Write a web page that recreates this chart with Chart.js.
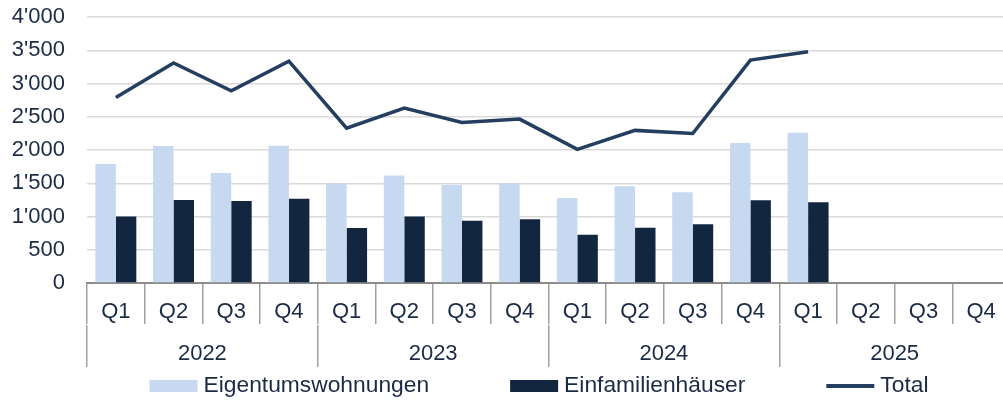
<!DOCTYPE html>
<html>
<head>
<meta charset="utf-8">
<script src="https://cdn.jsdelivr.net/npm/chart.js@4/dist/chart.umd.min.js"></script>
<style>
  body { margin: 0; overflow: hidden; background: #fff; }
  #wrap { width: 1010px; height: 403px; }
</style>
</head>
<body>
<div id="wrap"><canvas id="chart"></canvas></div>
<script>
// Data
const quarters = ['Q1', 'Q2', 'Q3', 'Q4', 'Q1', 'Q2', 'Q3', 'Q4', 'Q1', 'Q2', 'Q3', 'Q4', 'Q1', 'Q2', 'Q3', 'Q4'];
const years = ['2022', '2023', '2024', '2025'];
const eigentumswohnungen = [1790, 2060, 1655, 2065, 1500, 1615, 1475, 1500, 1280, 1455, 1365, 2105, 2260, null, null, null];
const einfamilienhaeuser = [1000, 1248, 1233, 1268, 827, 1000, 937, 957, 727, 832, 882, 1243, 1213, null, null, null];
const total = [2790, 3308, 2890, 3335, 2327, 2630, 2415, 2465, 2010, 2295, 2248, 3352, 3478, null, null, null];

const textColor = '#1b2a45';
const fontFamily = "'Liberation Sans', Arial, sans-serif";

// formats 3500 as 3'500
function swissNumber(v) {
  if (v < 1000) return String(v);
  const rest = String(v % 1000).padStart(3, '0');
  return Math.floor(v / 1000) + "'" + rest;
}

// legend drawn by hand so spacing matches the original
const legendPlugin = {
  id: 'customLegend',
  afterDraw(chart) {
    const ctx = chart.ctx;
    const boxW = 48, gapText = 6, gapItem = 81;
    ctx.save();
    ctx.font = '22.8px ' + fontFamily;
    const items = chart.data.datasets.map(ds => ({
      label: ds.label,
      type: ds.type,
      color: ds.type === 'line' ? ds.borderColor : ds.backgroundColor,
      w: ctx.measureText(ds.label).width
    }));
    let totalW = 0;
    items.forEach((it, i) => {
      totalW += boxW + gapText + it.w + (i < items.length - 1 ? gapItem : 0);
    });
    let x = 539 - totalW / 2;
    const y = 386;
    items.forEach(it => {
      if (it.type === 'line') {
        ctx.strokeStyle = it.color;
        ctx.lineWidth = 4;
        ctx.beginPath();
        ctx.moveTo(x, y);
        ctx.lineTo(x + boxW, y);
        ctx.stroke();
      } else {
        ctx.fillStyle = it.color;
        ctx.fillRect(x, y - 6, boxW, 12);
      }
      ctx.fillStyle = textColor;
      ctx.textBaseline = 'middle';
      ctx.fillText(it.label, x + boxW + gapText, y);
      x += boxW + gapText + it.w + gapItem;
    });
    ctx.restore();
  }
};

const ctx = document.getElementById('chart').getContext('2d');
new Chart(ctx, {
  type: 'bar',
  data: {
    labels: quarters,
    datasets: [
      {
        label: 'Eigentumswohnungen',
        data: eigentumswohnungen,
        backgroundColor: '#c6d9f0',
        order: 1
      },
      {
        label: 'Einfamilienhäuser',
        data: einfamilienhaeuser,
        backgroundColor: '#132640',
        order: 1
      },
      {
        type: 'line',
        label: 'Total',
        data: total,
        borderColor: '#243e60',
        borderWidth: 3.5,
        pointRadius: 0,
        tension: 0,
        order: 0
      }
    ]
  },
  options: {
    responsive: true,
    maintainAspectRatio: false,
    animation: false,
    datasets: {
      bar: { categoryPercentage: 0.71, barPercentage: 1 }
    },
    layout: { padding: { top: 17, bottom: 36, right: 0, left: 0 } },
    plugins: {
      legend: { display: false },
      tooltip: { enabled: false }
    },
    scales: {
      x: {
        position: 'bottom',
        offset: true,
        grid: {
          offset: true,
          drawOnChartArea: false,
          drawTicks: true,
          tickLength: 41,
          color: '#a0a0a0',
          lineWidth: 1.5
        },
        border: { display: true, color: '#8c8c8c', width: 2 },
        ticks: {
          color: textColor,
          font: { family: fontFamily, size: 22 },
          padding: -25,
          maxRotation: 0,
          autoSkip: false
        },
        afterFit(scale) { scale.height = 42; }
      },
      x2: {
        type: 'category',
        labels: years,
        position: 'bottom',
        offset: true,
        grid: {
          offset: true,
          drawOnChartArea: false,
          drawTicks: true,
          tickLength: 42,
          color: '#a0a0a0',
          lineWidth: 1.5
        },
        border: { display: false },
        ticks: {
          color: textColor,
          font: { family: fontFamily, size: 22 },
          padding: -26,
          maxRotation: 0
        },
        afterFit(scale) { scale.height = 42; }
      },
      y: {
        min: 0,
        max: 4000,
        grid: { color: '#d9d9d9', lineWidth: 1.5, drawTicks: false },
        border: { display: false },
        ticks: {
          stepSize: 500,
          padding: 22,
          color: textColor,
          font: { family: fontFamily, size: 22 },
          callback: v => swissNumber(v)
        },
        afterFit(scale) {
          scale.width = 87;
          scale.paddingTop = 0;
          scale.paddingBottom = 0;
        }
      }
    }
  },
  plugins: [legendPlugin]
});
</script>
</body>
</html>
